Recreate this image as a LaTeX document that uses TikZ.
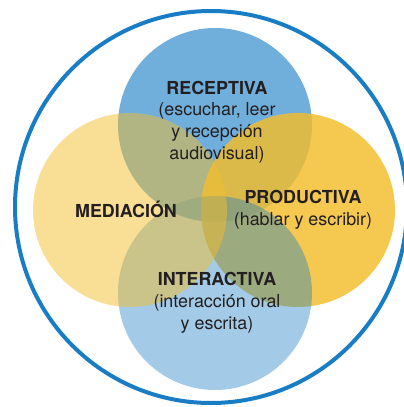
\documentclass[tikz,border=0pt]{standalone}
\usepackage{fontspec}
\setmainfont{TeX Gyre Heros}
\usepackage{tikz}

\definecolor{azul}{HTML}{197DC5}
\definecolor{amarillo}{HTML}{F3BD2D}
\definecolor{tinta}{HTML}{231F20}

\begin{document}
\begin{tikzpicture}[x=1pt, y=-1pt]
    \tikzstyle{every node}=[align = center, text = tinta]
    \tikzstyle{disc} = [circle, minimum size=194pt, inner sep=0pt]
    \tikzstyle{rotulo} = [font=\fontsize{17.9}{21.7}\selectfont, inner sep=0pt]
    \useasboundingbox (0,0) rectangle (404,407);
    % outer ring
    \node[circle, draw=azul, line width=4pt, minimum size=392pt, inner sep=0pt] (rim) at (211,207) {};
    % the four circles
    \node[disc, fill=azul, fill opacity=.62] (receptiva) at (215,125) {};
    \node[disc, fill=amarillo, fill opacity=.83] (productiva) at (298,210) {};
    \node[disc, fill=azul, fill opacity=.4] (interactiva) at (215,293) {};
    \node[disc, fill=amarillo, fill opacity=.5] (mediacion) at (130,210) {};
    % labels
    \node[rotulo] (receptivaTxt) at (217,122) {\textbf{RECEPTIVA}\\(escuchar, leer\\y recepción\\audiovisual)};
    \node[rotulo] (productivaTxt) at (303,210) {\textbf{PRODUCTIVA}\\(hablar y escribir)};
    \node[rotulo, anchor=base] (mediacionTxt) at (126,217) {\textbf{MEDIACIÓN}};
    \node[rotulo] (interactivaTxt) at (217,303) {\textbf{INTERACTIVA}\\(interacción oral\\y escrita)};
\end{tikzpicture}
\end{document}
